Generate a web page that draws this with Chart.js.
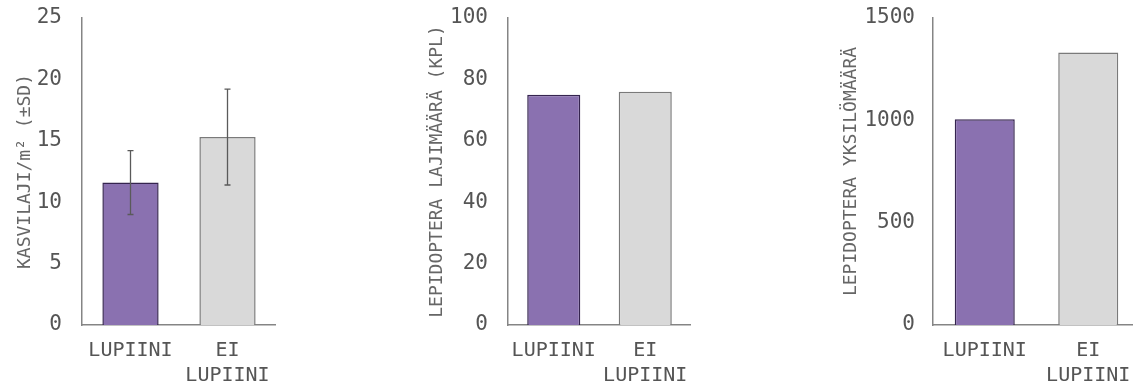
<!DOCTYPE html>
<html>
<head>
<meta charset="utf-8">
<script src="https://cdn.jsdelivr.net/npm/chart.js@4"></script>
<style>
  html, body { margin: 0; padding: 0; background: #fff; overflow: hidden; }
  body { width: 1133px; height: 389px; position: relative; }
  canvas { position: absolute; top: 0; }
</style>
</head>
<body>
<canvas id="plantChart" width="276" height="389" style="left:0px"></canvas>
<canvas id="speciesChart" width="281" height="389" style="left:410px"></canvas>
<canvas id="countChart" width="320" height="389" style="left:820px"></canvas>
<script>
const categories = ['LUPIINI', ['EI', 'LUPIINI']];

const plantValues = [11.6, 15.3];
const plantSd = [2.6, 3.9];
const speciesValues = [75, 76];
const countValues = [1005, 1332];

const plantTicks = [0, 5, 10, 15, 20, 25];
const speciesTicks = [0, 20, 40, 60, 80, 100];
const countTicks = [0, 500, 1000, 1500];

const barFill = ['#8a71b0', '#d9d9d9'];
const barEdge = ['#35244f', '#7a7a7a'];
const fontFamily = '"DejaVu Sans Mono", "Liberation Mono", monospace';

// virhepalkit (±SD) piirretään skaalan kautta
const errorBars = {
    id: 'errorBars',
    afterDatasetsDraw(chart, args, opts) {
        if (!opts.sd) return;
        const ctx = chart.ctx;
        const meta = chart.getDatasetMeta(0);
        const y = chart.scales.y;
        const values = chart.data.datasets[0].data;
        ctx.save();
        ctx.strokeStyle = '#5a5a5a';
        ctx.lineWidth = 1.3;
        meta.data.forEach((bar, i) => {
            const top = y.getPixelForValue(values[i] + opts.sd[i]);
            const bottom = y.getPixelForValue(values[i] - opts.sd[i]);
            ctx.beginPath();
            ctx.moveTo(bar.x, top);
            ctx.lineTo(bar.x, bottom);
            ctx.moveTo(bar.x - 3, top);
            ctx.lineTo(bar.x + 3, top);
            ctx.moveTo(bar.x - 3, bottom);
            ctx.lineTo(bar.x + 3, bottom);
            ctx.stroke();
        });
        ctx.restore();
    }
};

function makeChart(id, values, ticks, title, opts) {
    const ctx = document.getElementById(id);
    return new Chart(ctx, {
        type: 'bar',
        data: {
            labels: categories,
            datasets: [{
                data: values,
                backgroundColor: barFill,
                borderColor: barEdge,
                borderWidth: 1.5,
                barPercentage: 0.58,
                categoryPercentage: 1
            }]
        },
        plugins: [errorBars],
        options: {
            responsive: false,
            animation: false,
            layout: { padding: { top: 18, left: 0, right: 0, bottom: 0 } },
            plugins: {
                legend: { display: false },
                tooltip: { enabled: false },
                errorBars: { sd: opts.sd || null }
            },
            scales: {
                x: {
                    grid: { display: false, drawTicks: false },
                    border: { color: '#858585', width: 1.5 },
                    ticks: {
                        color: '#555',
                        padding: 13.5,
                        maxRotation: 0,
                        autoSkip: false,
                        font: { family: fontFamily, size: 20, lineHeight: 1.25 }
                    },
                    afterFit: (scale) => {
                        scale.height = 64;
                        scale.paddingLeft = 0;
                        scale.paddingRight = 0;
                    }
                },
                y: {
                    min: 0,
                    max: ticks[ticks.length - 1],
                    afterBuildTicks: (scale) => { scale.ticks = ticks.map(v => ({ value: v })); },
                    grid: { display: false, drawTicks: false },
                    border: { color: '#858585', width: 1.5 },
                    ticks: {
                        color: '#555',
                        padding: opts.tickPad,
                        font: { family: fontFamily, size: 21 },
                        callback: (v) => String(v)
                    },
                    title: {
                        display: true,
                        text: title,
                        color: '#666',
                        padding: { top: opts.titlePad, bottom: 0 },
                        font: { family: fontFamily, size: 18, lineHeight: 1.2 }
                    },
                    afterFit: (scale) => {
                        scale.width = opts.axisWidth;
                        scale.paddingTop = 0;
                        scale.paddingBottom = 0;
                    }
                }
            }
        }
    });
}

makeChart('plantChart', plantValues, plantTicks, 'KASVILAJI/m² (±SD)',
    { sd: plantSd, tickPad: 20, titlePad: 14.2, axisWidth: 82 });
makeChart('speciesChart', speciesValues, speciesTicks, 'LEPIDOPTERA LAJIMÄÄRÄ (KPL)',
    { tickPad: 20, titlePad: 16.7, axisWidth: 98 });
makeChart('countChart', countValues, countTicks, 'LEPIDOPTERA YKSILÖMÄÄRÄ',
    { tickPad: 18, titlePad: 20.2, axisWidth: 113 });
</script>
</body>
</html>
